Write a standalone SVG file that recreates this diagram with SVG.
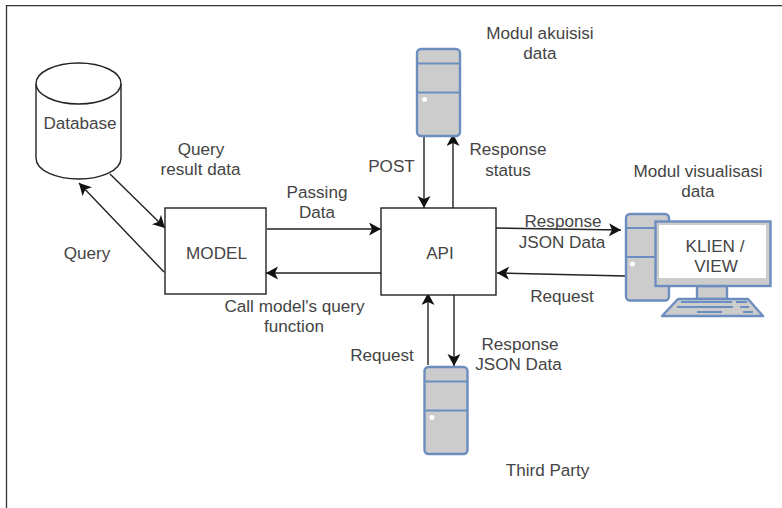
<svg xmlns="http://www.w3.org/2000/svg" width="782" height="508" viewBox="0 0 782 508">
<style>
text{font-family:"Liberation Sans",Arial,sans-serif;font-size:17.1px;fill:#444;text-anchor:middle}
.b{fill:#fff;stroke:#222;stroke-width:1.4}
.c{fill:none;stroke:#222;stroke-width:1.4;marker-end:url(#a)}
.p{fill:#ccc;stroke:#6c8ebf;stroke-width:2.4;stroke-linejoin:round}
.l{fill:none;stroke:#6c8ebf;stroke-width:2}
.k{fill:#6c8ebf}
</style>
<defs>
<marker id="a" markerUnits="userSpaceOnUse" markerWidth="14" markerHeight="14" refX="12" refY="6.500" orient="auto"><path d="M0 0L12 6.500L0 13L3 6.500Z" fill="#111"/></marker>
<g id="srv">
<rect class="p" x="0" y="0" width="43" height="87" rx="4"/>
<path class="l" d="M0 14.500H43M0 43.500H43"/>
<circle cx="7.500" cy="50.500" r="2.500" fill="#fff"/>
</g>
</defs>
<rect width="782" height="508" fill="#fff"/>
<path d="M6.500 508V5.700H782" fill="none" stroke="#333" stroke-width="1.300"/>
<g id="connectors">
<path class="c" d="M110 174L165 228"/>
<path class="c" d="M164 272L79 183"/>
<path class="c" d="M267 229H381"/>
<path class="c" d="M381 273H266"/>
<path class="c" d="M424 136V208"/>
<path class="c" d="M453 208V134"/>
<path class="c" d="M496 228L621 230"/>
<path class="c" d="M625 276L497 273"/>
<path class="c" d="M428 365V293"/>
<path class="c" d="M454 295V366"/>
</g>
<g id="database">
<path class="b" d="M36 84V158C36 171 57 179 79 179C100 179 121 171 121 158V84"/>
<ellipse class="b" cx="78.500" cy="83.500" rx="42.500" ry="20.500"/>
<text x="80" y="129">Database</text>
</g>
<g id="model"><rect class="b" x="165" y="208" width="101" height="86"/><text x="216.500" y="259">MODEL</text></g>
<g id="api"><rect class="b" x="381" y="208" width="115" height="87"/><text x="440" y="259">API</text></g>
<g id="modul-akuisisi"><use href="#srv" x="417" y="49"/></g>
<g id="third-party"><use href="#srv" x="424.500" y="367"/></g>
<g id="klien">
<rect class="p" x="626" y="214" width="43" height="86.500" rx="4"/>
<path class="l" d="M626 228H669M626 257H669"/>
<circle cx="632.500" cy="264" r="2.500" fill="#fff"/>
<rect class="p" x="697" y="286" width="30" height="13" stroke-width="2"/>
<path class="p" d="M678 299H748L763 316H662Z" stroke-width="2"/>
<path class="k" d="M681 301h51v2h-51zM736 301h11v2h-11zM677 306h56v2h-56zM740 306h9v2h-9zM697 311h25v2h-25zM743 311h10v2h-10z"/>
<rect x="655.500" y="221.500" width="115" height="64.500" fill="#ccc" stroke="#6c8ebf" stroke-width="2.400"/>
<rect x="659" y="225" width="107" height="53" fill="#fff"/>
<text x="715" y="252">KLIEN /</text>
<text x="716" y="272">VIEW</text>
</g>
<g id="labels">
<text x="540" y="39">Modul akuisisi</text><text x="540" y="59">data</text>
<text x="201" y="155">Query</text><text x="200.500" y="175">result data</text>
<text x="508" y="155">Response</text><text x="508" y="176">status</text>
<text x="391.500" y="172">POST</text>
<text x="698" y="177">Modul visualisasi</text><text x="698" y="197">data</text>
<text x="317" y="198">Passing</text><text x="317" y="218">Data</text>
<text x="563" y="227">Response</text><text x="562" y="248">JSON Data</text>
<text x="87" y="259">Query</text>
<text x="562" y="302">Request</text>
<text x="294.500" y="312">Call model's query</text><text x="294" y="332">function</text>
<text x="520" y="350">Response</text><text x="518.500" y="370">JSON Data</text>
<text x="382" y="361">Request</text>
<text x="547.500" y="476">Third Party</text>
</g>
</svg>
